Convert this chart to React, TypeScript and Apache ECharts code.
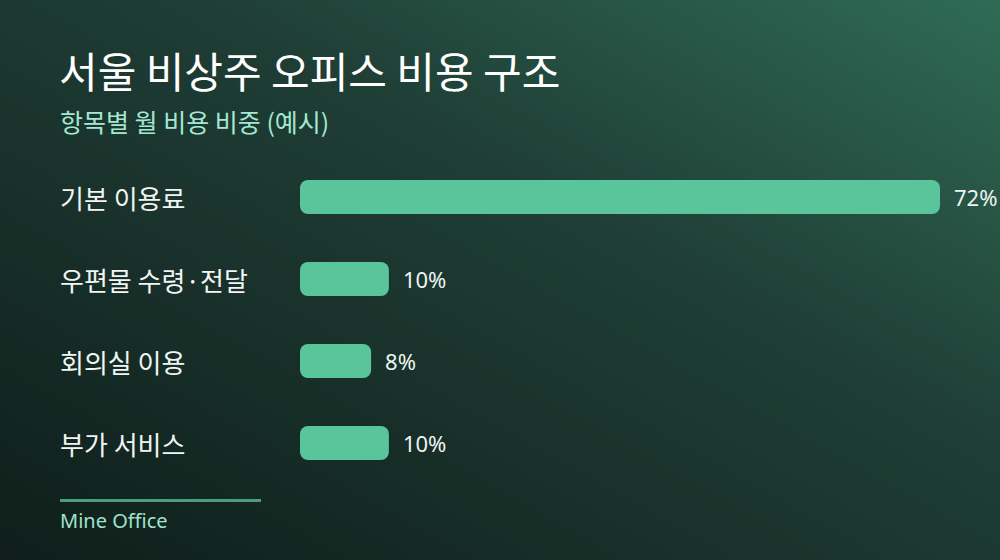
import React, { useEffect, useRef } from 'react';
import * as echarts from 'echarts';

const TITLE = '서울 비상주 오피스 비용 구조';
const SUBTITLE = '항목별 월 비용 비중 (예시)';
const SOURCE = 'Mine Office';

const categories = ['기본 이용료', '우편물 수령·전달', '회의실 이용', '부가 서비스'];
const shares = [72, 10, 8, 10];

const FONT = '"Noto Sans CJK KR", "Noto Sans", sans-serif';

export default function App() {
  const chartRef = useRef<HTMLDivElement>(null);

  useEffect(() => {
    document.body.style.margin = '0';
    if (!chartRef.current) return;
    const chart = echarts.init(chartRef.current, null, { renderer: 'svg' });

    chart.setOption({
      animation: false,
      backgroundColor: new echarts.graphic.LinearGradient(1, 0, 0, 1, [
        { offset: 0, color: '#2f6b56' },
        { offset: 0.4, color: '#1f3e35' },
        { offset: 1, color: '#0f1e1a' },
      ]),
      textStyle: { fontFamily: FONT },
      grid: { left: 300, right: 60, top: 156, bottom: 76 },
      xAxis: { type: 'value', min: 0, max: 72, show: false },
      yAxis: {
        type: 'category',
        data: categories,
        inverse: true,
        axisLine: { show: false },
        axisTick: { show: false },
        axisLabel: {
          align: 'left',
          margin: 240,
          color: '#f1f5f3',
          fontSize: 26,
          lineHeight: 26,
          padding: [0, 0, 12, 0],
          fontFamily: FONT,
        },
      },
      series: [
        {
          type: 'bar',
          data: shares,
          barWidth: 34,
          itemStyle: { color: '#5ac59a', borderRadius: 8 },
          label: {
            show: true,
            position: 'right',
            distance: 14,
            formatter: '{c}%',
            color: '#eef4f1',
            fontSize: 22,
            padding: [0, 0, 5, 0],
            fontFamily: '"Noto Sans", sans-serif',
          },
        },
      ],
      graphic: [
        {
          type: 'text',
          left: 59,
          top: 48,
          style: { text: TITLE, fill: '#ffffff', fontSize: 42, fontWeight: 'normal', fontFamily: FONT },
        },
        {
          type: 'text',
          left: 60,
          top: 108,
          style: { text: SUBTITLE, fill: '#a3e8d2', fontSize: 25, fontFamily: FONT },
        },
        {
          type: 'rect',
          shape: { x: 60, y: 499, width: 201, height: 3 },
          style: { fill: '#4a9e7d' },
        },
        {
          type: 'text',
          left: 60,
          top: 510,
          style: { text: SOURCE, fill: '#9fe3cc', fontSize: 20, fontFamily: '"Noto Sans", sans-serif' },
        },
      ],
    });

    return () => chart.dispose();
  }, []);

  return <div ref={chartRef} style={{ width: 1000, height: 560 }} />;
}
